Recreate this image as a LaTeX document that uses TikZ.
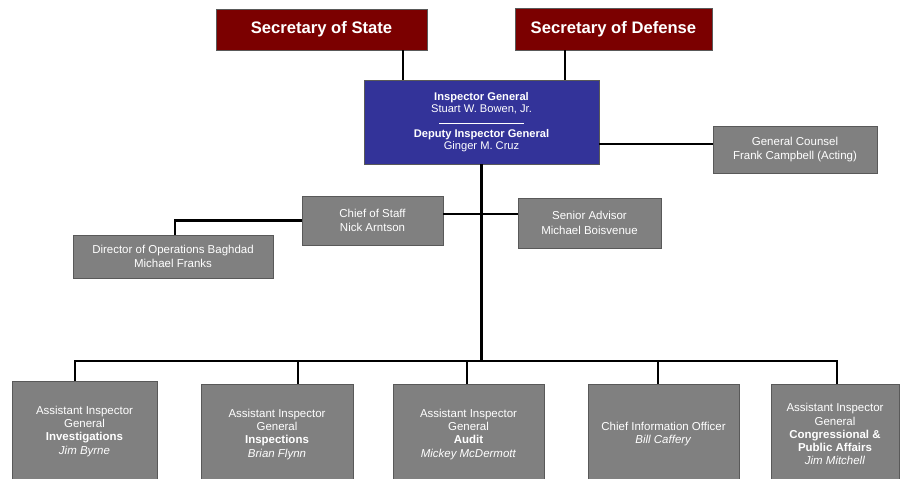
\documentclass[tikz,border=0pt]{standalone}
\usepackage{fontspec}
\setmainfont{Liberation Sans}
\definecolor{secred}{HTML}{7B0000}
\definecolor{igblue}{HTML}{333399}
\definecolor{staffgray}{HTML}{808080}
\begin{document}
\begin{tikzpicture}[
          x = 0.03cm, y = -0.03cm,
          dims/.style 2 args = {minimum width = #1*0.03cm, minimum height = #2*0.03cm},
          org/.style = {draw = black!65, line width = 0.6pt, text = white, inner sep = 0pt, align = center},
          sec/.style = {org, fill = secred, font = \bfseries\fontsize{14.2}{16}\selectfont},
          ig/.style = {org, fill = igblue, font = \fontsize{9.5}{10.6}\selectfont},
          staff/.style = {org, fill = staffgray, font = \fontsize{9.8}{12.2}\selectfont},
          aig/.style = {staff, anchor = north, font = \fontsize{9.8}{11.3}\selectfont},
          link/.style = {draw, line width = 2.4pt},
        ]
          \fill[white] (0,0) rectangle (903,478);
          \useasboundingbox (0,0) rectangle (903,478);
          \clip (0,0) rectangle (903,478);

          \node[sec, dims = {211}{41}] (sos) at (321.5,29.5) {Secretary of State};
          \node[sec, dims = {197}{42}] (sod) at (613.5,29) {Secretary of Defense};
          \node[ig, dims = {235}{84}] (ig) at (481.5,122)
            {\textbf{Inspector General}\\ Stuart W. Bowen, Jr.\\
             \rule[1.5pt]{2.55cm}{0.5pt}\\
             \textbf{Deputy Inspector General}\\ Ginger M. Cruz};
          \node[staff, dims = {164}{47}] (gc) at (795,149.5) {General Counsel\\ Frank Campbell (Acting)};
          \node[staff, dims = {141}{49}] (cos) at (372.5,220.5) {Chief of Staff\\ Nick Arntson};
          \node[staff, dims = {143}{50}] (sa) at (589.5,223) {Senior Advisor\\ Michael Boisvenue};
          \node[staff, dims = {200}{43}] (dir) at (173,256.5) {Director of Operations Baghdad\\ Michael Franks};

          \node[aig, dims = {145}{100}] (aiInv) at (84.5,381)
            {Assistant Inspector\\ General\\ \textbf{Investigations}\\ \textit{Jim Byrne}};
          \node[aig, dims = {152}{100}] (aiIns) at (277,384)
            {Assistant Inspector\\ General\\ \textbf{Inspections}\\ \textit{Brian Flynn}};
          \node[aig, dims = {151}{100}] (aiAud) at (468.5,384)
            {Assistant Inspector\\ General\\ \textbf{Audit}\\ \textit{Mickey McDermott}};
          \node[aig, dims = {151}{100}] (cio) at (663.5,384)
            {Chief Information Officer\\ \textit{Bill Caffery}};
          \node[aig, dims = {128}{100}] (aiCon) at (835,384)
            {Assistant Inspector\\ General\\ \textbf{Congressional \&}\\ \textbf{Public Affairs}\\ \textit{Jim Mitchell}};

          \coordinate (sosTap) at (403,0);
          \coordinate (sodTap) at (565,0);
          \coordinate (gcRow) at (0,144);
          \coordinate (cosRow) at (0,214);
          \coordinate (dirTap) at (175,0);
          \foreach \n/\x in {aiInv/75, aiIns/298, aiAud/467, cio/658, aiCon/837}
            \coordinate (tap-\n) at (\x,361);

          \draw[link] (sosTap |- sos.south) -- (sosTap |- ig.north);
          \draw[link] (sodTap |- sod.south) -- (sodTap |- ig.north);
          \draw[link] (gcRow -| ig.east) -- (gcRow -| gc.west);
          \draw[link] (ig.south) -- (ig.south |- tap-aiInv);
          \draw[link] (cosRow -| cos.east) -- (cosRow -| sa.west);
          \draw[link] (cos.west) -| (dirTap |- dir.north);
          \draw[link] (tap-aiInv |- aiInv.north) -- (tap-aiInv) -- (tap-aiCon) -- (tap-aiCon |- aiCon.north);
          \foreach \n in {aiIns, aiAud, cio}
            \draw[link] (tap-\n) -- (tap-\n |- \n.north);
        \end{tikzpicture}
\end{document}
